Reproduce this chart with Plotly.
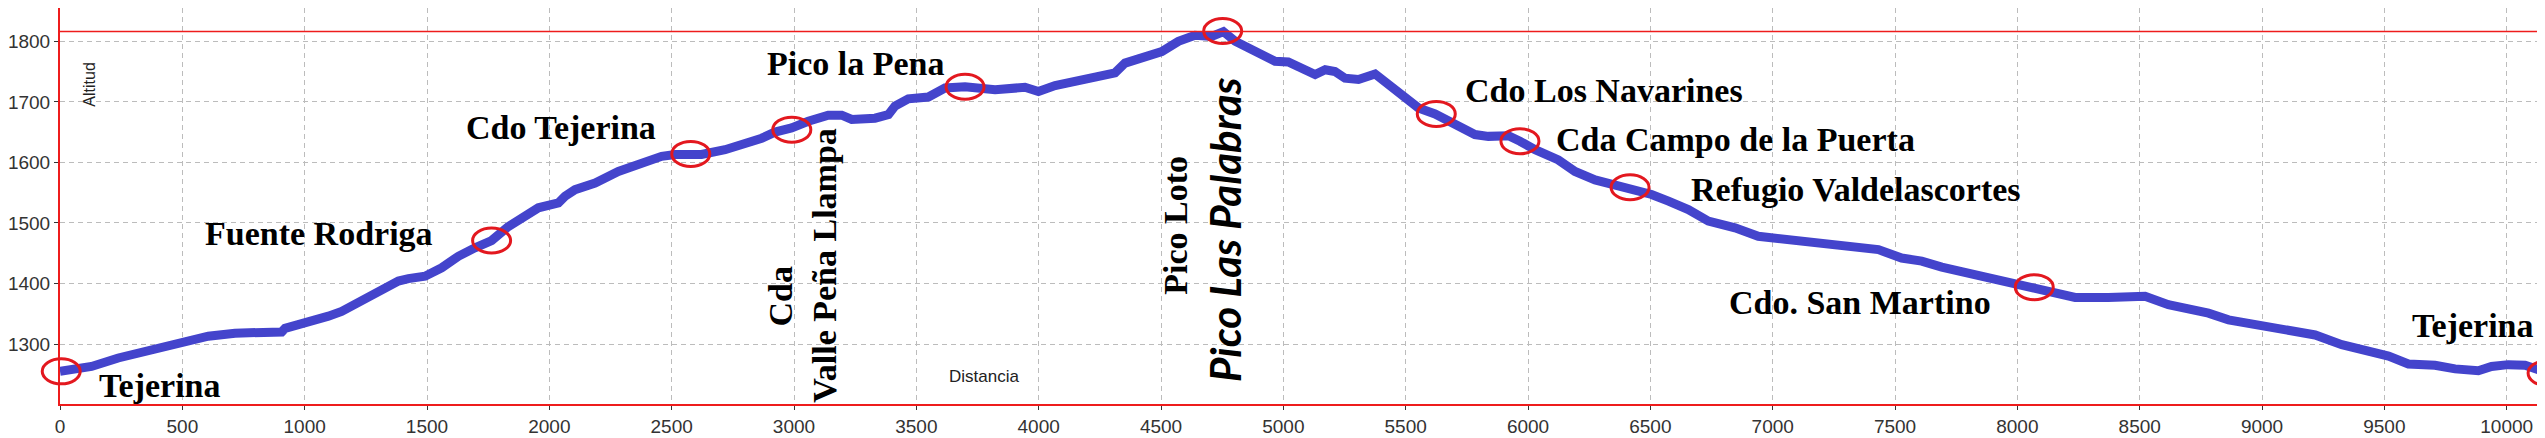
import plotly.graph_objects as go

# ---- profile data (distance m, altitude m) ----
distance = [0, 129, 238, 320, 388, 497, 606, 715, 906, 920, 1015, 1097, 1151, 1233, 1328, 1383,
            1424, 1492, 1560, 1628, 1696, 1764, 1832, 1887, 1955, 2037, 2064, 2105, 2187, 2282,
            2377, 2459, 2514, 2622, 2718, 2813, 2868, 2922, 2990, 3058, 3140, 3195, 3236, 3331,
            3386, 3413, 3467, 3549, 3617, 3699, 3822, 3944, 3999, 4067, 4162, 4257, 4312, 4353,
            4435, 4503, 4571, 4639, 4707, 4755, 4803, 4857, 4911, 4966, 5020, 5075, 5130, 5171,
            5211, 5252, 5307, 5375, 5429, 5497, 5552, 5620, 5688, 5783, 5838, 5920, 5967, 6029,
            6124, 6192, 6274, 6356, 6424, 6505, 6574, 6655, 6737, 6846, 6941, 7009, 7118, 7227,
            7350, 7432, 7527, 7609, 7691, 7800, 7895, 7977, 8069, 8154, 8236, 8372, 8454, 8522,
            8617, 8699, 8781, 8863, 8945, 9054, 9136, 9217, 9326, 9449, 9517, 9598, 9707, 9789,
            9884, 9938, 10006, 10075, 10143, 10180]
altitude = [1255, 1263, 1277, 1285, 1291, 1304, 1313, 1318, 1320, 1326, 1335, 1346, 1354, 1371, 1392, 1404,
            1408, 1412, 1426, 1445, 1459, 1471, 1494, 1508, 1525, 1533, 1544, 1555, 1566, 1585,
            1599, 1610, 1613, 1613, 1621, 1632, 1640, 1650, 1657, 1668, 1678, 1678, 1671, 1673,
            1679, 1693, 1705, 1708, 1723, 1725, 1720, 1724, 1717, 1727, 1734, 1742, 1748, 1764,
            1775, 1783, 1800, 1810, 1808, 1816, 1800, 1789, 1778, 1767, 1766, 1756, 1745, 1753,
            1750, 1739, 1737, 1746, 1728, 1706, 1690, 1680, 1665, 1646, 1643, 1644, 1635, 1621,
            1604, 1585, 1571, 1563, 1558, 1547, 1536, 1522, 1503, 1492, 1478, 1475, 1470, 1463,
            1457, 1456, 1442, 1437, 1427, 1417, 1410, 1404, 1394, 1386, 1377, 1377, 1380, 1379,
            1365, 1359, 1351, 1340, 1335, 1325, 1321, 1315, 1299, 1288, 1280, 1267, 1265, 1259,
            1256, 1263, 1266, 1265, 1255, 1251]

# ---- waypoints (circled) ----
wp_names = ["Tejerina", "Fuente Rodriga", "Cdo Tejerina", "Cda Valle Peña Llampa", "Pico la Pena",
            "Pico Las Palabras", "Cdo Los Navarines", "Cda Campo de la Puerta",
            "Refugio Valdelascortes", "Cdo. San Martino", "Tejerina"]
wp_dist = [5, 1764, 2578, 2991, 3699, 4752, 5625, 5967, 6417, 8069, 10165]
wp_alt = [1255, 1471, 1614, 1654, 1725, 1817, 1680, 1635, 1559, 1394, 1252]

x_ticks = list(range(0, 10001, 500))
y_ticks = list(range(1300, 1801, 100))

X_RANGE = [0, 10181]
Y_RANGE = [1201, 1855]

fig = go.Figure()
fig.add_trace(go.Scatter(x=distance, y=altitude, mode="lines",
                         line=dict(color="#4444cc", width=9), hoverinfo="skip"))

shapes = []
for i, (d, a) in enumerate(zip(wp_dist, wp_alt)):
    circ = dict(type="circle", xsizemode="pixel", ysizemode="pixel",
                x0=-19, x1=19, y0=-12.5, y1=12.5,
                line=dict(color="#e3181f", width=3), fillcolor="rgba(0,0,0,0)")
    if i == 0:
        # first waypoint sits on the y axis: anchor on paper so it is not clipped
        circ.update(xref="paper", yref="paper",
                    xanchor=(d - X_RANGE[0]) / (X_RANGE[1] - X_RANGE[0]),
                    yanchor=(a - Y_RANGE[0]) / (Y_RANGE[1] - Y_RANGE[0]))
    else:
        circ.update(xref="x", yref="y", xanchor=d, yanchor=a)
    shapes.append(circ)
# max-altitude red line
shapes.append(dict(type="line", xref="paper", x0=0, x1=1, yref="y", y0=max(altitude), y1=max(altitude),
                   line=dict(color="#ee1c1c", width=1.5), layer="above"))
# right border
shapes.append(dict(type="line", xref="paper", x0=1, x1=1, yref="paper", y0=0, y1=1,
                   line=dict(color="#222222", width=2)))

serif = dict(family="Liberation Serif, Times New Roman, serif", size=34, color="black", weight="bold")
labels = [
    ("Tejerina", 408, 1232, 0),
    ("Fuente Rodriga", 1059, 1483, 0),
    ("Cdo Tejerina", 2046, 1657, 0),
    ("Pico la Pena", 3254, 1764, 0),
    ("Cda", 2944, 1379, -90),
    ("Valle Peña Llampa", 3124, 1430, -90),
    ("Pico Loto", 4561, 1497, -90),
    ("Cdo Los Navarines", 6311, 1718, 0),
    ("Cda Campo de la Puerta", 6846, 1638, 0),
    ("Refugio Valdelascortes", 7340, 1555, 0),
    ("Cdo. San Martino", 7358, 1368, 0),
    ("Tejerina", 9864, 1331, 0),
]
annotations = []
for t, x, y, ang in labels:
    annotations.append(dict(text=t, x=x, y=y, xref="x", yref="y", showarrow=False,
                            xanchor="center", yanchor="middle", textangle=ang, font=serif))
annotations.append(dict(text="Pico Las Palabras", x=4759, y=1489, xref="x", yref="y", showarrow=False,
                        xanchor="center", yanchor="middle", textangle=-90,
                        font=dict(family="Lato, sans-serif", size=42, color="black",
                                  style="italic", weight="bold")))
annotations.append(dict(text="Altitud", x=120, y=1729, xref="x", yref="y", showarrow=False,
                        xanchor="center", yanchor="middle", textangle=-90,
                        font=dict(family="Liberation Sans, Arial", size=16, color="#222222")))
annotations.append(dict(text="Distancia", x=3776, y=1247, xref="x", yref="y", showarrow=False,
                        xanchor="center", yanchor="middle",
                        font=dict(family="Liberation Sans, Arial", size=17, color="#222222")))

tickfont = dict(family="Liberation Sans, Arial", size=19, color="#333333")
fig.update_layout(
    width=2545, height=438,
    margin=dict(l=52, r=2, t=0, b=42),
    paper_bgcolor="white", plot_bgcolor="white",
    showlegend=False,
    shapes=shapes, annotations=annotations,
    xaxis=dict(range=X_RANGE, tickvals=x_ticks, ticktext=[str(v) for v in x_ticks],
               showgrid=True, gridcolor="#bcbcbc", griddash="5px,4px", gridwidth=1,
               showline=True, linecolor="#ee1c1c", linewidth=2, mirror=False,
               ticks="outside", ticklen=4, tickcolor="#333333", tickfont=tickfont, zeroline=False),
    yaxis=dict(range=Y_RANGE, tickvals=y_ticks, ticktext=[str(v) for v in y_ticks],
               showgrid=True, gridcolor="#bcbcbc", griddash="5px,4px", gridwidth=1,
               showline=True, linecolor="#ee1c1c", linewidth=2, mirror=False,
               ticks="outside", ticklen=4, tickcolor="#333333", tickfont=tickfont, zeroline=False),
)

fig.write_html("out.html")
